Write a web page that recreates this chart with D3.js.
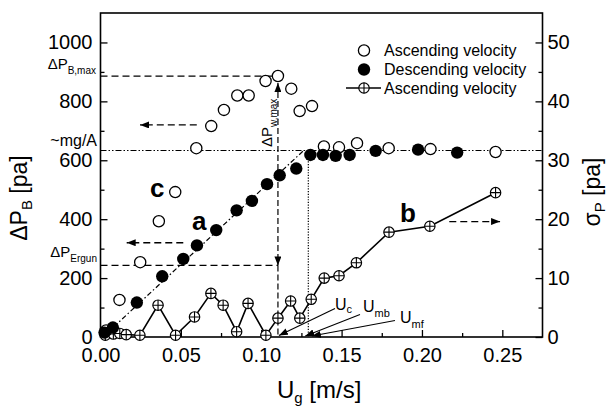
<!DOCTYPE html>
<html><head><meta charset="utf-8">
<script src="https://cdn.jsdelivr.net/npm/d3@7"></script>
<style>
body{margin:0;background:#fff}
svg{display:block;font-family:"Liberation Sans",Arial,Helvetica,sans-serif}
</style>
</head><body>
<svg id="chart" width="611" height="407"></svg>
<script>
// Bed pressure drop, ascending gas velocity (open circles)
const ascUg = [0.0035,0.0118,0.0247,0.0363,0.0465,0.0596,0.0689,0.0768,0.0851,0.0922,0.1027,0.1104,0.1187,0.1239,0.1316,0.1390,0.1484,0.1596,0.1793,0.2053,0.2458];
const ascDP = [22,126,254,393,492,641,716,771,820,820,869,886,843,767,784,647,644,658,641,638,628];
// Bed pressure drop, descending gas velocity (filled circles)
const descUg = [0.0025,0.0077,0.0226,0.0384,0.0515,0.0600,0.0720,0.0847,0.0942,0.1036,0.1115,0.1218,0.1306,0.1384,0.1463,0.1550,0.1712,0.1976,0.2219];
const descDP = [15,32,117,206,265,311,363,430,462,519,549,572,618,618,615,618,632,636,626];
// Standard deviation of pressure fluctuations, ascending velocity (right axis)
const sigUg = [0.0030,0.0080,0.0120,0.0160,0.0245,0.0358,0.0467,0.0585,0.0687,0.0763,0.0847,0.0918,0.1029,0.1104,0.1183,0.1240,0.1311,0.1392,0.1484,0.1592,0.1795,0.2049,0.2458];
const sigP  = [0.3,0.5,0.6,0.4,0.3,5.4,0.3,3.4,7.4,5.4,0.9,5.7,0.3,3.2,6.1,3.2,6.4,10.0,10.4,12.6,17.8,18.8,24.5];

// Reference levels
const mgA = 633;          // ~mg/A
const dPErgun = 243;      // Ergun pressure drop
const uMb = 0.1293;       // minimum bubbling velocity
const uMfTip = 0.1315;
// Ergun line "a" end points
const lineAUg = [0.0030, 0.1264];
const lineADP = [8, 633];

// Axis ticks
const xTicks = [0, 0.05, 0.10, 0.15, 0.20, 0.25];
const xMinor = [0.025, 0.075, 0.125, 0.175, 0.225];
const leftTicks = [0, 200, 400, 600, 800, 1000];
const leftMinor = [100, 300, 500, 700, 900];
const rightTicks = [0, 10, 20, 30, 40, 50];
const rightMinor = [5, 15, 25, 35, 45];
const legendLabels = ["Ascending velocity", "Descending velocity", "Ascending velocity"];

const svg = d3.select("#chart");
const L = 100.5, R = 542.5, T = 13, B = 337;
const X = d3.scaleLinear().domain([0, 0.275]).range([L, R]);
const YL = d3.scaleLinear().domain([0, 1100]).range([B, T]);
const YR = d3.scaleLinear().domain([0, 55]).range([B, T]);

const defs = svg.append("defs");
defs.append("marker").attr("id", "ah")
  .attr("markerUnits", "userSpaceOnUse")
  .attr("markerWidth", 10).attr("markerHeight", 7)
  .attr("refX", 9).attr("refY", 3.5).attr("orient", "auto-start-reverse")
  .append("path").attr("d", "M0,0 L9,3.5 L0,7 Z").attr("fill", "#000");

const g = svg.append("g");

// ---- axes (ticks point inward) ----
function styleAxis(sel) {
  sel.select(".domain").remove();
  sel.selectAll("line").attr("stroke", "#000").attr("stroke-width", 1.3);
  sel.selectAll("text").attr("font-size", 20).attr("fill", "#000")
     .attr("font-family", '"Liberation Sans",Arial,sans-serif');
}
g.append("g").attr("transform", `translate(${L},0)`)
  .call(d3.axisLeft(YL).tickValues(leftTicks).tickSize(-7).tickPadding(8).tickFormat(d3.format("d")))
  .call(styleAxis);
g.append("g").attr("transform", `translate(${L},0)`)
  .call(d3.axisLeft(YL).tickValues(leftMinor).tickSize(-4).tickFormat(""))
  .call(styleAxis);
g.append("g").attr("transform", `translate(${R},0)`)
  .call(d3.axisRight(YR).tickValues(rightTicks).tickSize(-7).tickPadding(5).tickFormat(d3.format("d")))
  .call(styleAxis);
g.append("g").attr("transform", `translate(${R},0)`)
  .call(d3.axisRight(YR).tickValues(rightMinor).tickSize(-4).tickFormat(""))
  .call(styleAxis);
g.append("g").attr("transform", `translate(0,${B})`)
  .call(d3.axisBottom(X).tickValues(xTicks).tickSize(-7).tickPadding(11).tickFormat(d3.format(".2f")))
  .call(styleAxis);
g.append("g").attr("transform", `translate(0,${B})`)
  .call(d3.axisBottom(X).tickValues(xMinor).tickSize(-4).tickFormat(""))
  .call(styleAxis);

// frame
g.append("rect").attr("x", L).attr("y", T).attr("width", R - L).attr("height", B - T)
  .attr("fill", "none").attr("stroke", "#000").attr("stroke-width", 1.6);

// ---- axis titles ----
const yt = g.append("text").attr("transform", "translate(27,198) rotate(-90)")
  .attr("text-anchor", "middle").attr("font-size", 23);
yt.append("tspan").text("ΔP");
yt.append("tspan").attr("font-size", 15).attr("dy", 5).text("B");
yt.append("tspan").attr("dy", -5).text(" [pa]");

const rt = g.append("text").attr("transform", "translate(600,192) rotate(-90)")
  .attr("text-anchor", "middle").attr("font-size", 23);
rt.append("tspan").text("σ");
rt.append("tspan").attr("font-size", 15).attr("dy", 5).text("P");
rt.append("tspan").attr("dy", -5).text(" [pa]");

const xt = g.append("text").attr("x", 277).attr("y", 398).attr("font-size", 24);
xt.append("tspan").text("U");
xt.append("tspan").attr("font-size", 15).attr("dy", 5).text("g");
xt.append("tspan").attr("dy", -5).text(" [m/s]");

// ---- reference lines ----
const iMax = d3.maxIndex(ascDP);
const uC = ascUg[iMax], dpMax = ascDP[iMax];

// ΔP_B,max and ΔP_Ergun levels
g.append("line").attr("x1", L).attr("x2", X(uC)).attr("y1", YL(dpMax)).attr("y2", YL(dpMax))
  .attr("stroke", "#000").attr("stroke-width", 1.2).attr("stroke-dasharray", "7,4");
g.append("line").attr("x1", L).attr("x2", X(uC)).attr("y1", YL(dPErgun)).attr("y2", YL(dPErgun))
  .attr("stroke", "#000").attr("stroke-width", 1.2).attr("stroke-dasharray", "7,4");
// ΔP_w,max double arrow and drop to axis
g.append("line").attr("x1", X(uC)).attr("x2", X(uC)).attr("y1", YL(dpMax) + 7).attr("y2", YL(dPErgun))
  .attr("stroke", "#000").attr("stroke-width", 1.2).attr("stroke-dasharray", "6,3")
  .attr("marker-start", "url(#ah)").attr("marker-end", "url(#ah)");
g.append("line").attr("x1", X(uC)).attr("x2", X(uC)).attr("y1", YL(dPErgun)).attr("y2", B)
  .attr("stroke", "#000").attr("stroke-width", 1.2).attr("stroke-dasharray", "6,3");
// ~mg/A level
g.append("line").attr("x1", L).attr("x2", R).attr("y1", YL(mgA)).attr("y2", YL(mgA))
  .attr("stroke", "#000").attr("stroke-width", 1.1).attr("stroke-dasharray", "6,2,1.5,2,1.5,2");
// U_mb vertical
g.append("line").attr("x1", X(uMb)).attr("x2", X(uMb)).attr("y1", YL(mgA)).attr("y2", B)
  .attr("stroke", "#000").attr("stroke-width", 1.2).attr("stroke-dasharray", "1.2,1.5");
// line a
g.append("line").attr("x1", X(lineAUg[0])).attr("x2", X(lineAUg[1]))
  .attr("y1", YL(lineADP[0])).attr("y2", YL(lineADP[1]))
  .attr("stroke", "#000").attr("stroke-width", 1.2).attr("stroke-dasharray", "5,2.5,1.5,2.5");

// dashed axis-direction arrows
function dArrow(x1, y1, x2, y2) {
  g.append("line").attr("x1", x1).attr("y1", y1).attr("x2", x2).attr("y2", y2)
    .attr("stroke", "#000").attr("stroke-width", 1.3).attr("stroke-dasharray", "7,4")
    .attr("marker-end", "url(#ah)");
}
dArrow(X(0.0599), YL(720), X(0.0246), YL(720));
dArrow(X(0.0515), YL(320), X(0.0163), YL(320));
dArrow(X(0.2170), YR(19.6), X(0.2486), YR(19.6));

// labels on the left of the axis
function subLabel(x, y, main, sub, fs, sfs, dy, anchor) {
  const t = g.append("text").attr("x", x).attr("y", y).attr("font-size", fs)
    .attr("text-anchor", anchor || "start");
  t.append("tspan").text(main);
  t.append("tspan").attr("font-size", sfs).attr("dy", dy).text(sub);
  return t;
}
subLabel(96, YL(dpMax) - 7, "ΔP", "B,max", 15, 10, 5, "end");
subLabel(97, YL(dPErgun) - 8, "ΔP", "Ergun", 15, 10, 5, "end");
g.append("text").attr("x", 97).attr("y", 146).attr("font-size", 16)
  .attr("text-anchor", "end").text("~mg/A");

// ΔP_w,max rotated label
const wt = g.append("text").attr("transform", `translate(${X(uC) - 6},147) rotate(-90)`)
  .attr("font-size", 15);
wt.append("tspan").text("ΔP");
wt.append("tspan").attr("font-size", 10).attr("dy", 5).text("w,max");

// U_c, U_mb, U_mf pointers
function pointer(x1, y1, x2, y2) {
  g.append("line").attr("x1", x1).attr("y1", y1).attr("x2", x2).attr("y2", y2)
    .attr("stroke", "#000").attr("stroke-width", 1.1).attr("marker-end", "url(#ah)");
}
pointer(335, 308.5, X(uC) + 1, B - 1.5);
pointer(360, 314.5, X(uMb) - 3, B - 1);
pointer(395, 320.5, X(uMfTip), B - 1);
subLabel(335, 310, "U", "c", 16, 11, 3);
subLabel(363, 312, "U", "mb", 16, 11, 5);
subLabel(400, 323, "U", "mf", 16, 11, 5);

// curve letters
g.append("text").attr("x", X(0.0308)).attr("y", YL(475)).attr("font-size", 26)
  .attr("font-weight", "bold").text("c");
g.append("text").attr("x", X(0.0569)).attr("y", YL(363)).attr("font-size", 26)
  .attr("font-weight", "bold").text("a");
g.append("text").attr("x", X(0.1863)).attr("y", YL(390)).attr("font-size", 26)
  .attr("font-weight", "bold").text("b");

// ---- series ----
function crossed(sel, r) {
  sel.append("circle").attr("r", r).attr("fill", "#fff").attr("stroke", "#000").attr("stroke-width", 1.2);
  sel.append("path").attr("d", `M${-r},0H${r}M0,${-r}V${r}`).attr("stroke", "#000").attr("stroke-width", 1.1);
}
const sig = d3.range(sigUg.length).map(i => [sigUg[i], sigP[i]]);
g.append("path").datum(sig)
  .attr("d", d3.line().x(d => X(d[0])).y(d => YR(d[1])))
  .attr("fill", "none").attr("stroke", "#000").attr("stroke-width", 1.6);
g.selectAll(".sig").data(sig).join("g").attr("class", "sig")
  .attr("transform", d => `translate(${X(d[0])},${YR(d[1])})`)
  .each(function () { crossed(d3.select(this), 5.2); });

const asc = d3.range(ascUg.length).map(i => [ascUg[i], ascDP[i]]);
g.selectAll(".asc").data(asc).join("circle").attr("class", "asc")
  .attr("cx", d => X(d[0])).attr("cy", d => YL(d[1])).attr("r", 5.6)
  .attr("fill", "#fff").attr("stroke", "#000").attr("stroke-width", 1.3);

const desc = d3.range(descUg.length).map(i => [descUg[i], descDP[i]]);
g.selectAll(".desc").data(desc).join("circle").attr("class", "desc")
  .attr("cx", d => X(d[0])).attr("cy", d => YL(d[1])).attr("r", 6.2).attr("fill", "#000");

// ---- legend ----
const lg = g.append("g");
const rows = [56, 75, 93.5];
lg.append("circle").attr("cx", 364).attr("cy", rows[0] - 5.5).attr("r", 5.6)
  .attr("fill", "#fff").attr("stroke", "#000").attr("stroke-width", 1.3);
lg.append("circle").attr("cx", 364).attr("cy", rows[1] - 5.5).attr("r", 6.2).attr("fill", "#000");
lg.append("line").attr("x1", 346).attr("x2", 381).attr("y1", rows[2] - 5.5).attr("y2", rows[2] - 5.5)
  .attr("stroke", "#000").attr("stroke-width", 1.6);
crossed(lg.append("g").attr("transform", `translate(364,${rows[2] - 5.5})`), 5.2);
lg.selectAll(".lt").data(legendLabels).join("text").attr("class", "lt")
  .attr("x", 384).attr("y", (d, i) => rows[i]).attr("font-size", 16).text(d => d);
</script>
</body></html>
